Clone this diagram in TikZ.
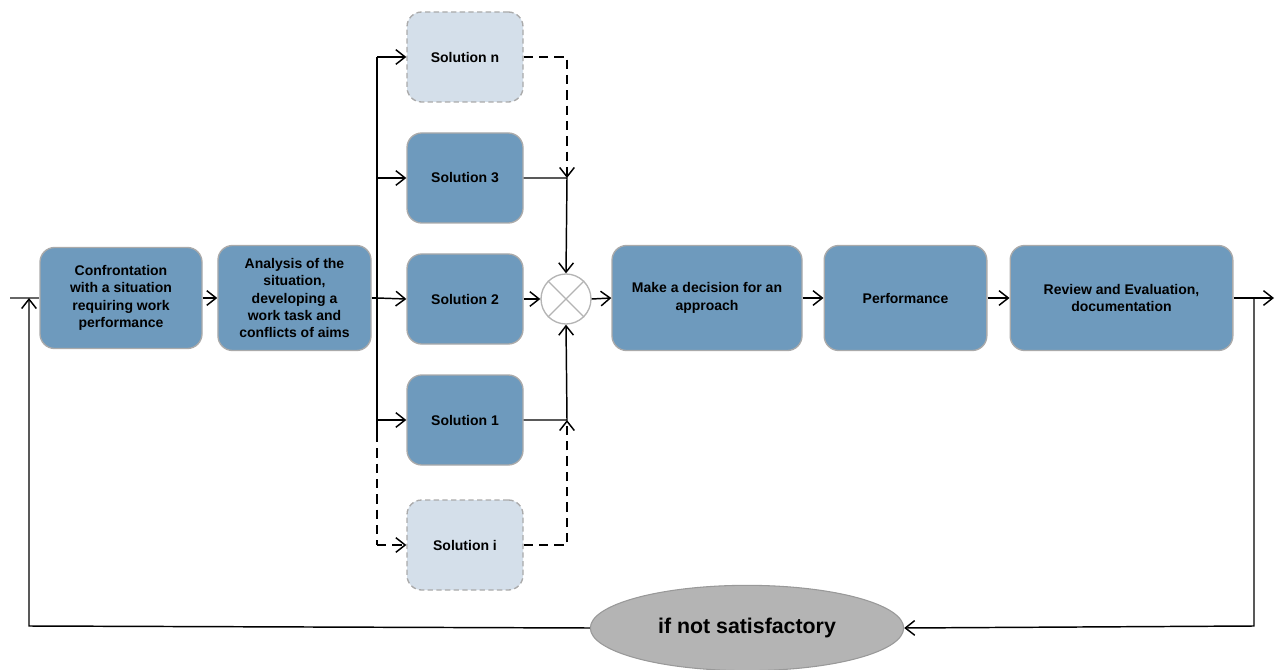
\documentclass[tikz,border=0pt]{standalone}
\usepackage{fontspec}
\setmainfont{Liberation Sans}
\usepackage{xcolor}
\usetikzlibrary{arrows.meta, shapes.geometric, positioning}
\definecolor{boxblue}{RGB}{110,154,189}
\definecolor{boxlight}{RGB}{212,223,234}
\definecolor{boxedge}{RGB}{170,170,170}
\definecolor{ovalgrey}{RGB}{180,180,180}

\begin{document}
\begin{tikzpicture}[x=0.75pt, y=-0.75pt,
		tip/.style={-{Straight Barb[length=7pt,width=11pt]}},
		link/.style={line width=1.1pt, black},
		dashlink/.style={link, dash pattern=on 7pt off 4.5pt},
		box/.style={rectangle, rounded corners=11pt, fill=boxblue, draw=boxedge, line width=1pt,
			align=center, font=\fontsize{10.5}{13}\selectfont\bfseries, inner sep=2pt},
		altbox/.style={box, fill=boxlight, dash pattern=on 4pt off 2.5pt},
		solbox/.style={box, minimum width=87pt, minimum height=67.5pt},
		altsol/.style={altbox, minimum width=87pt, minimum height=67.5pt}]
	\useasboundingbox (0,0) rectangle (1278,670);

	\node [box, minimum width=121.5pt, minimum height=75.8pt] (conf) at (121,298)
		{Confrontation\\with a situation\\requiring work\\performance};
	\node [box, minimum width=114.8pt, minimum height=78.8pt] (anal) at (294.5,298)
		{Analysis of the\\situation,\\developing a\\work task and\\conflicts of aims};

	\node [altsol] (soln) at (465,57) {Solution n};
	\node [solbox] (sol3) at (465,178) {Solution 3};
	\node [solbox] (sol2) at (465,299) {Solution 2};
	\node [solbox] (sol1) at (465,420) {Solution 1};
	\node [altsol] (soli) at (465,545) {Solution i};

	\node [circle, draw=ovalgrey, line width=1pt, fill=white, minimum size=37.5pt, inner sep=0pt] (merge) at (566,299) {};
	\draw [ovalgrey, line width=1pt] (merge.north east) -- (merge.south west)
		(merge.north west) -- (merge.south east);

	\node [box, minimum width=142.5pt, minimum height=78.8pt] (decide) at (707,298)
		{Make a decision for an\\approach};
	\node [box, minimum width=122pt, minimum height=78.8pt] (perf) at (905.5,298) {Performance};
	\node [box, minimum width=167pt, minimum height=78.8pt] (review) at (1121.5,298)
		{Review and Evaluation,\\documentation};

	\node [ellipse, fill=ovalgrey, draw=boxedge!90!black, line width=0.8pt, minimum width=235pt, minimum height=64pt,
		font=\fontsize{16}{19}\selectfont\bfseries] (check) at (747,628) {if not satisfactory};

	\coordinate (in) at (10,298);
	\coordinate (out) at (1274,298);
	\coordinate (fork) at (377,298);
	\coordinate (forkn) at (377,57);
	\coordinate (forki) at (377,545);
	\coordinate (forkd) at (377,433);
	\coordinate (joinn) at (567,57);
	\coordinate (join3) at (567,178);
	\coordinate (join1) at (567,420);
	\coordinate (joini) at (567,545);
	\coordinate (back) at (1254,298);
	\coordinate (backr) at (1254,626);
	\coordinate (backl) at (29,626);
	\coordinate (backu) at (29,298);

	\draw [line width=1.1pt, black!60] (in) -- (conf.west);
	\draw [link, tip] (conf) -- (anal);
	\draw [link] (anal.east) -- (fork);
	\draw [link] (forkn) -- (forkd);
	\draw [dashlink] (forkd) -- (forki);

	\draw [link, tip] (forkn) -- (soln.west);
	\draw [link, tip] (sol3.west -| fork) -- (sol3.west);
	\draw [link, tip] (fork) -- (sol2.west);
	\draw [link, tip] (sol1.west -| fork) -- (sol1.west);
	\draw [dashlink, tip] (forki) -- (soli.west);

	\draw [dashlink, tip] (soln.east) -- (joinn) -- (join3);
	\draw [link, tip] (sol3.east) -- (join3) -- (merge.north);
	\draw [link, tip] (sol2.east) -- (merge.west);
	\draw [link, tip] (sol1.east) -- (join1) -- (merge.south);
	\draw [dashlink, tip] (soli.east) -- (joini) -- (join1);

	\draw [link, tip] (merge.east) -- (decide.west);
	\draw [link, tip] (decide) -- (perf);
	\draw [link, tip] (perf) -- (review);
	\draw [link, tip] (review.east) -- (out);

	\draw [link, tip] (back) -- (backr) -- (check.east);
	\draw [link, tip] (check.west) -- (backl) -- (backu);
\end{tikzpicture}
\end{document}
